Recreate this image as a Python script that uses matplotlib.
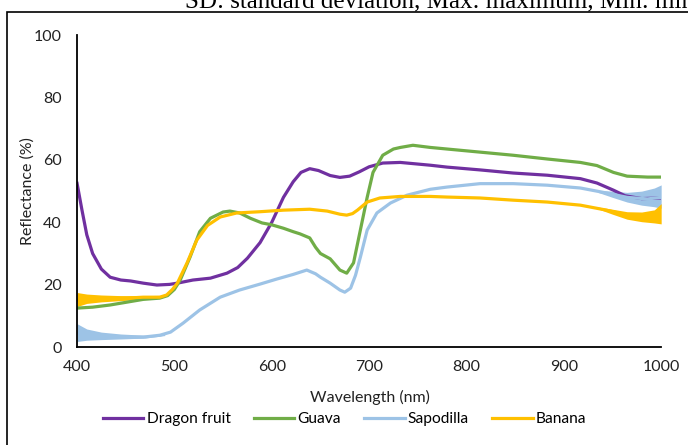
import matplotlib.pyplot as plt
from matplotlib.patches import Rectangle

plt.rcParams['font.family'] = ['Lato', 'DejaVu Sans']

# reflectance spectra (wavelength in nm, reflectance in %)
dragon_wl = [400, 405, 410, 416, 425, 434, 445, 455, 468, 482, 495, 503, 519, 537,
             554, 565, 575, 588, 600, 612, 622, 630, 639, 648, 660, 670, 680, 690,
             700, 714, 732, 763, 780, 814, 848, 883, 917, 934, 951, 963, 980, 1000]
dragon = [52.5, 44, 36, 30, 25, 22.4, 21.5, 21.2, 20.5, 19.9, 20.1, 20.5, 21.5, 22.1,
          23.7, 25.5, 28.5, 33.5, 40, 48, 53, 56, 57.2, 56.6, 55, 54.4, 54.8, 56.2,
          57.8, 59, 59.2, 58.3, 57.7, 56.8, 55.8, 55.1, 54, 52.6, 50.3, 48.5, 47.6, 47.8]

guava_wl = [400, 416, 434, 451, 468, 485, 493, 500, 506, 516, 526, 537, 550, 557,
            567, 578, 590, 600, 612, 622, 629, 639, 645, 650, 660, 670, 677, 684,
            691, 698, 704, 714, 725, 732, 745, 763, 780, 814, 848, 883, 917, 934,
            951, 965, 986, 1000]
guava = [12.5, 12.8, 13.5, 14.4, 15.3, 15.7, 16.5, 18.5, 21.5, 28.8, 37, 41.3, 43.3, 43.6,
         43, 41.3, 39.8, 39.2, 38.1, 37, 36.3, 35, 32, 30, 28.3, 24.7, 23.7, 27,
         37.5, 48, 56, 61.5, 63.5, 64, 64.7, 64, 63.5, 62.5, 61.5, 60.3, 59.2, 58.2,
         56, 54.8, 54.5, 54.5]

sapodilla_wl = [400, 416, 434, 451, 468, 485, 496, 509, 526, 547, 567, 588, 605, 622,
                636, 645, 650, 660, 670, 675, 681, 686, 691, 698, 708, 722, 739, 763,
                780, 814, 848, 883, 917, 944, 965, 986, 1000]
sapodilla = [4.5, 3.8, 3.2, 3.2, 3.2, 3.8, 4.8, 7.7, 11.9, 16, 18.3, 20.2, 21.8, 23.3,
             24.7, 23.5, 22.4, 20.5, 18.3, 17.6, 18.9, 23, 28.8, 37.5, 43, 46.2, 48.7, 50.6,
             51.3, 52.4, 52.4, 51.9, 51, 49.4, 48, 47.5, 48]

banana_wl = [400, 416, 434, 451, 468, 485, 492, 498, 503, 513, 523, 534, 547, 564,
             588, 612, 639, 657, 670, 677, 683, 688, 698, 711, 732, 763, 780, 814,
             848, 883, 917, 944, 965, 986, 1000]
banana = [15, 15.5, 15.7, 15.7, 16, 16, 16.7, 18.5, 20.5, 27, 34.3, 39, 41.7, 43,
          43.4, 43.9, 44.2, 43.6, 42.6, 42.3, 42.8, 43.9, 46.5, 47.8, 48.3, 48.3, 48.1, 47.8,
          47.1, 46.5, 45.5, 43.9, 42.3, 41.7, 42.3]

# spread of the noisy ends of the spectra (low / high envelope)
start_wl = [400, 410, 425, 445, 470, 490]
sapodilla_start_lo = [1.8, 2.2, 2.4, 2.6, 2.9, 3.7]
sapodilla_start_hi = [7.5, 5.8, 4.8, 4.2, 3.8, 4.1]
banana_start_lo = [13.0, 14.0, 14.5, 14.9, 15.4, 16.1]
banana_start_hi = [17.5, 17.0, 16.7, 16.5, 16.5, 16.6]

end_wl = [935, 950, 965, 980, 993, 1000]
sapodilla_end_lo = [49.6, 48.0, 46.5, 45.5, 45.0, 44.5]
sapodilla_end_hi = [50.2, 50.0, 49.6, 50.0, 51.0, 52.0]
banana_end_lo = [44.3, 42.6, 41.0, 40.2, 39.8, 39.5]
banana_end_hi = [44.9, 44.2, 43.4, 43.3, 44.0, 46.0]

fig = plt.figure(figsize=(6.88, 4.45), dpi=100)
ax = fig.add_axes([0.112, 0.220, 0.849, 0.701])

c_dragon, c_guava, c_sapo, c_banana = '#7030A0', '#70AD47', '#9DC3E6', '#FFC000'

ax.plot(dragon_wl, dragon, color=c_dragon, lw=2.3, label='Dragon fruit')
ax.plot(guava_wl, guava, color=c_guava, lw=2.3, label='Guava')
ax.fill_between(start_wl, sapodilla_start_lo, sapodilla_start_hi, color=c_sapo, lw=0)
ax.fill_between(end_wl, sapodilla_end_lo, sapodilla_end_hi, color=c_sapo, lw=0)
ax.plot(sapodilla_wl, sapodilla, color=c_sapo, lw=2.3, label='Sapodilla')
ax.fill_between(start_wl, banana_start_lo, banana_start_hi, color=c_banana, lw=0)
ax.fill_between(end_wl, banana_end_lo, banana_end_hi, color=c_banana, lw=0)
ax.plot(banana_wl, banana, color=c_banana, lw=2.3, label='Banana')

ax.set_xlim(400, 1000)
ax.set_ylim(0, 100)
ax.set_xticks(range(400, 1001, 100))
ax.set_yticks(range(0, 101, 20))
ax.tick_params(length=0, labelsize=11.5, colors='#222222', pad=9)
ax.tick_params(axis='y', pad=11)
for side in ['top', 'right']:
    ax.spines[side].set_visible(False)
for side in ['left', 'bottom']:
    ax.spines[side].set_linewidth(1.3)

ax.set_xlabel('Wavelength (nm)', fontsize=11.5, color='#222222', va='center')
ax.set_ylabel('Reflectance (%)', fontsize=11.5, color='#222222', va='center')
ax.xaxis.set_label_coords(0.502, -0.163)
ax.yaxis.set_label_coords(-0.084, 0.5)

fig.legend(loc='center', bbox_to_anchor=(0.501, 0.058), ncol=4, frameon=False,
           fontsize=11.2, handlelength=2.6, columnspacing=1.5, handletextpad=0.2)

# border of the surrounding box and the caption line above it
fig.patches.append(Rectangle((7 / 688, -0.1), 1.2, 0.1 + 1 - 12 / 445,
                             transform=fig.transFigure, fill=False,
                             edgecolor='black', lw=1.2))
fig.text(185 / 688, 1 - 7 / 445, 'SD: standard deviation, Max: maximum, Min: minimum',
         family='Liberation Serif', fontsize=18, va='baseline', ha='left')

fig.savefig('out.png', dpi=100)
